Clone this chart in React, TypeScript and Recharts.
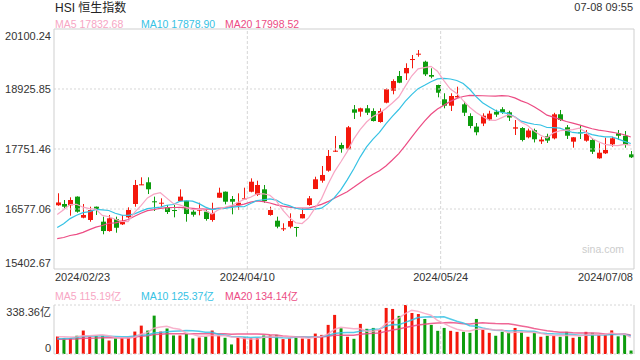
import React from "react";
import { ComposedChart, Bar, Line, XAxis, YAxis, ReferenceLine, Cell } from "recharts";

const dates = [
  "02/23","02/26","02/27","02/28","02/29",
  "03/01","03/04","03/05","03/06","03/07","03/08","03/11","03/12","03/13","03/14","03/15","03/18","03/19","03/20","03/21","03/22","03/25","03/26","03/27","03/28",
  "04/02","04/03","04/05","04/08","04/09","04/10","04/11","04/12","04/15","04/16","04/17","04/18","04/19","04/22","04/23","04/24","04/25","04/26","04/29","04/30",
  "05/02","05/03","05/06","05/07","05/08","05/09","05/10","05/13","05/14","05/16","05/17","05/20","05/21","05/22","05/23","05/24","05/27","05/28","05/29","05/30","05/31",
  "06/03","06/04","06/05","06/06","06/07","06/11","06/12","06/13","06/14","06/17","06/18","06/19","06/20","06/21","06/24","06/25","06/26","06/27","06/28",
  "07/02","07/03","07/04","07/05","07/08",
];

const opens = [
  16650,16675,16649,16819,16407,16362,16622,16329,16146,16381,
  16277,16414,16675,17047,17100,16728,16688,16610,16557,16733,
  16739,16524,16544,16524,16362,16798,16916,16773,16655,16773,
  16915,16851,16962,16460,16348,16180,16231,16225,16394,16655,
  16968,17131,17327,17699,17830,17746,18528,18482,18548,18495,
  18280,18658,18893,19180,19233,19493,19605,19460,19200,19004,
  18724,18599,18763,18626,18397,18190,18250,18330,18480,18530,
  18470,18150,18162,17980,18120,17900,18000,17960,18431,18176,
  17895,18078,17914,17928,17569,17667,17843,18059,18011,17647,
];
const highs = [
  16885,16753,16806,16825,16675,16622,16625,16427,16460,16427,
  16460,16610,17145,17197,17197,16819,16786,16655,16655,16962,
  16740,16571,16700,16557,16700,16994,16920,16831,16884,16994,
  17177,17131,17047,16622,16427,16297,16492,16228,16590,16831,
  17209,17419,17732,18006,17875,18202,18612,18560,18612,18548,
  18548,18940,19115,19278,19429,19591,19689,19480,19331,19010,
  18842,18842,18971,18677,18450,18260,18450,18500,18520,18570,
  18500,18319,18180,18150,18150,17990,18050,18460,18515,18221,
  17985,18221,18123,17961,17863,17973,17993,18123,18104,17712,
];
const lows = [
  16640,16590,16446,16505,16395,16329,16460,16082,16133,16113,
  16264,16394,16622,17045,16870,16538,16610,16479,16414,16728,
  16329,16427,16453,16348,16329,16796,16668,16473,16557,16772,
  16904,16831,16700,16446,16199,16146,16199,16035,16394,16642,
  16968,17092,17307,17693,17679,17732,18339,18384,18417,18290,
  18266,18646,18822,19040,19102,19331,19558,19180,19135,18763,
  18548,18495,18755,18397,18156,18020,18200,18300,18380,18440,
  18300,18025,17900,17960,17880,17850,17870,17940,18299,17947,
  17777,17947,17894,17654,17560,17654,17797,17928,17777,17576,
];
const closes = [
  16705,16622,16753,16524,16460,16557,16571,16146,16395,16210,
  16348,16557,17047,17060,16963,16708,16700,16518,16538,16819,
  16479,16465,16571,16381,16492,16896,16720,16720,16700,16786,
  17111,17047,16733,16557,16231,16199,16342,16212,16479,16786,
  17158,17243,17615,17718,17751,18176,18462,18548,18462,18299,
  18495,18920,19082,19049,19337,19513,19617,19213,19167,18853,
  18599,18789,18789,18462,18202,18079,18403,18444,18425,18476,
  18367,18176,17928,18113,17942,17936,17916,18430,18319,18011,
  17981,18059,18045,17698,17679,17732,17961,18011,17830,17589,
];
// turnover, 亿
const volumes = [
  121,110,110,126,162,121,126,126,93,107,
  110,114,155,196,162,265,155,176,128,128,
  139,107,114,121,162,128,112,66,114,114,
  110,110,128,128,132,103,107,121,107,103,
  141,132,201,270,178,119,105,208,174,180,
  167,318,311,263,338.36,283,276,242,201,160,
  180,160,153,153,146,242,167,146,126,153,
  146,180,153,119,146,119,126,126,119,153,
  112,119,153,146,132,130,163,122,137,24,
];
// sessions before the visible window (for the moving averages)
const priorCloses = [16212,15952,16078,15703,15485,15566,15533,15510,16081,15708,15878,15746,15879,15944,16340,16156,16248,16503,16743];
const priorVolumes = [92,98,105,88,95,110,90,85,120,100,95,80,85,92,105,110,118,120,125];

const priceTicks = [15402.67, 16577.06, 17751.46, 18925.85, 20100.24];
const volTicks = [0, 338.36];
const dateTickPos = [0, 30, 60, 90];
const dateTickLabels = ["2024/02/23", "2024/04/10", "2024/05/24", "2024/07/08"];
const priceLegend = ["MA5 17832.68", "MA10 17878.90", "MA20 17998.52"];
const volLegend = ["MA5 115.19亿", "MA10 125.37亿", "MA20 134.14亿"];

const UP = "#f4180c";
const DOWN = "#0d9c0d";
const C_MA5 = "#f7a6c4";
const C_MA10 = "#36c2e4";
const C_MA20 = "#ec4c84";
const GRID = "#d6d6d6";
const BORDER = "#cfcfcf";
const FONT = '"Liberation Sans", Arial, "Noto Sans CJK SC", sans-serif';

function movingAverage(values: number[], prior: number[], n: number) {
  const all = [...prior, ...values];
  return values.map((_, i) => {
    const end = prior.length + i;
    let s = 0;
    for (let k = end - n + 1; k <= end; k++) s += all[k];
    return s / n;
  });
}

const ma5 = movingAverage(closes, priorCloses, 5);
const ma10 = movingAverage(closes, priorCloses, 10);
const ma20 = movingAverage(closes, priorCloses, 20);
const vma5 = movingAverage(volumes, priorVolumes, 5);
const vma10 = movingAverage(volumes, priorVolumes, 10);
const vma20 = movingAverage(volumes, priorVolumes, 20);

const rows = dates.map((d, i) => ({
  date: d,
  pos: i + 0.5,
  open: opens[i],
  high: highs[i],
  low: lows[i],
  close: closes[i],
  range: [lows[i], highs[i]],
  vol: volumes[i],
  ma5: ma5[i],
  ma10: ma10[i],
  ma20: ma20[i],
  vma5: vma5[i],
  vma10: vma10[i],
  vma20: vma20[i],
}));

const Candle = (props: any) => {
  const { x, y, width, height } = props;
  const p = props.payload || props;
  if (p == null || x == null) return null;
  const top = Math.min(y, y + height);
  const h = Math.abs(height);
  const span = p.high - p.low;
  const k = span > 0 ? h / span : 0;
  const yOf = (v: number) => top + (p.high - v) * k;
  const up = p.close >= p.open;
  const color = up ? UP : DOWN;
  const cx = Math.round(x + width / 2) + 0.5;
  const bTop = yOf(Math.max(p.open, p.close));
  const bBot = yOf(Math.min(p.open, p.close));
  return (
    <g>
      <line x1={cx} x2={cx} y1={top} y2={top + h} stroke={color} strokeWidth={1} />
      <rect x={cx - width / 2} y={bTop} width={width} height={Math.max(1, bBot - bTop)} fill={color} />
    </g>
  );
};

const PriceTick = (props: any) => {
  const { x, y, payload, index } = props;
  const n = priceTicks.length;
  const shift = index === n - 1 ? 7 : index === 0 ? -6 : 0;
  return (
    <text x={x} y={y + shift} dy="0.35em" textAnchor="end" fontSize={11} fill="#333" fontFamily={FONT}>
      {Number(payload.value).toFixed(2)}
    </text>
  );
};

const VolTick = (props: any) => {
  const { x, y, payload, index } = props;
  const shift = index === 1 ? 7 : -6;
  const label = index === 1 ? `${Number(payload.value).toFixed(2)}亿` : "0";
  return (
    <text x={x} y={y + shift} dy="0.35em" textAnchor="end" fontSize={11} fill="#333" fontFamily={FONT}>
      {label}
    </text>
  );
};

const DateTick = (props: any) => {
  const { x, y, index } = props;
  const anchor = index === 0 ? "start" : index === dateTickPos.length - 1 ? "end" : "middle";
  const dx = index === 0 ? 1 : index === dateTickPos.length - 1 ? -1 : 0;
  return (
    <text x={x + dx} y={y} dy="0.71em" textAnchor={anchor} fontSize={11} fill="#333" fontFamily={FONT}>
      {dateTickLabels[index]}
    </text>
  );
};

const txt = (extra: React.CSSProperties): React.CSSProperties => ({
  position: "absolute",
  fontFamily: FONT,
  whiteSpace: "nowrap",
  lineHeight: "14px",
  zIndex: 2,
  ...extra,
});

export default function App() {
  return (
    <div style={{ position: "absolute", left: 0, top: 0, width: 640, height: 360, background: "#fff", overflow: "hidden" }}>
      <div style={{ position: "absolute", left: 0, top: 0 }}>
        <ComposedChart width={640} height={290} data={rows} margin={{ top: 29, right: 6, bottom: 1, left: 0 }}>
          <XAxis
            xAxisId="num"
            dataKey="pos"
            type="number"
            domain={[0, 90]}
            allowDataOverflow
            ticks={dateTickPos}
            interval={0}
            tick={<DateTick />}
            tickLine={false}
            axisLine={false}
            tickSize={0}
            tickMargin={4}
            height={20}
          />
          <XAxis xAxisId="cat" dataKey="date" hide height={0} />
          <YAxis
            yAxisId="p"
            domain={[priceTicks[0], priceTicks[priceTicks.length - 1]]}
            allowDataOverflow
            ticks={priceTicks}
            interval={0}
            width={54}
            tick={<PriceTick />}
            tickLine={false}
            axisLine={false}
            tickSize={0}
            tickMargin={3}
          />
          {priceTicks.slice(1, -1).map((v) => (
            <ReferenceLine key={v} xAxisId="num" yAxisId="p" y={v} stroke={GRID} strokeDasharray="2 2" />
          ))}
          {[30, 60].map((v) => (
            <ReferenceLine key={v} xAxisId="num" yAxisId="p" x={v} stroke={GRID} strokeDasharray="3 2" />
          ))}
          <ReferenceLine xAxisId="num" yAxisId="p" y={priceTicks[0]} stroke={BORDER} />
          <ReferenceLine xAxisId="num" yAxisId="p" y={priceTicks[priceTicks.length - 1]} stroke={BORDER} />
          <ReferenceLine xAxisId="num" yAxisId="p" x={0} stroke={BORDER} />
          <ReferenceLine xAxisId="num" yAxisId="p" x={90} stroke={BORDER} />
          <Bar xAxisId="cat" yAxisId="p" dataKey="range" barSize={5} shape={<Candle />} isAnimationActive={false} />
          <Line xAxisId="cat" yAxisId="p" dataKey="ma20" stroke={C_MA20} strokeWidth={1.2} dot={false} isAnimationActive={false} />
          <Line xAxisId="cat" yAxisId="p" dataKey="ma10" stroke={C_MA10} strokeWidth={1.2} dot={false} isAnimationActive={false} />
          <Line xAxisId="cat" yAxisId="p" dataKey="ma5" stroke={C_MA5} strokeWidth={1.2} dot={false} isAnimationActive={false} />
        </ComposedChart>
      </div>

      <div style={{ position: "absolute", left: 0, top: 290 }}>
        <ComposedChart width={640} height={70} data={rows} margin={{ top: 15, right: 6, bottom: 6, left: 0 }}>
          <XAxis xAxisId="num" dataKey="pos" type="number" domain={[0, 90]} allowDataOverflow hide height={0} />
          <XAxis xAxisId="cat" dataKey="date" hide height={0} />
          <YAxis
            yAxisId="v"
            domain={[0, volTicks[1]]}
            allowDataOverflow
            ticks={volTicks}
            interval={0}
            width={54}
            tick={<VolTick />}
            tickLine={false}
            axisLine={false}
            tickSize={0}
            tickMargin={3}
          />
          <ReferenceLine xAxisId="num" yAxisId="v" y={0} stroke={GRID} strokeDasharray="2 2" />
          <ReferenceLine xAxisId="num" yAxisId="v" y={volTicks[1]} stroke={GRID} strokeDasharray="2 2" />
          {[30, 60].map((v) => (
            <ReferenceLine key={v} xAxisId="num" yAxisId="v" x={v} stroke={GRID} strokeDasharray="3 2" />
          ))}
          <ReferenceLine xAxisId="num" yAxisId="v" x={0} stroke={BORDER} />
          <ReferenceLine xAxisId="num" yAxisId="v" x={90} stroke={BORDER} />
          <Bar xAxisId="cat" yAxisId="v" dataKey="vol" barSize={3} isAnimationActive={false}>
            {rows.map((r, i) => (
              <Cell key={i} fill={r.close >= r.open ? UP : DOWN} />
            ))}
          </Bar>
          <Line xAxisId="cat" yAxisId="v" dataKey="vma20" stroke={C_MA20} strokeOpacity={0.85} strokeWidth={1.5} dot={false} isAnimationActive={false} />
          <Line xAxisId="cat" yAxisId="v" dataKey="vma10" stroke={C_MA10} strokeOpacity={0.85} strokeWidth={1.5} dot={false} isAnimationActive={false} />
          <Line xAxisId="cat" yAxisId="v" dataKey="vma5" stroke={C_MA5} strokeOpacity={0.85} strokeWidth={1.5} dot={false} isAnimationActive={false} />
        </ComposedChart>
      </div>

      <div style={txt({ left: 55, top: 1, fontSize: 12, color: "#222" })}>HSI 恒生指数</div>
      <div style={txt({ right: 7, top: 0, fontSize: 11, color: "#333" })}>07-08 09:55</div>
      <div style={txt({ left: 55, top: 17, fontSize: 10.5, color: C_MA5 })}>{priceLegend[0]}</div>
      <div style={txt({ left: 141, top: 17, fontSize: 10.5, color: C_MA10 })}>{priceLegend[1]}</div>
      <div style={txt({ left: 225, top: 17, fontSize: 10.5, color: C_MA20 })}>{priceLegend[2]}</div>
      <div style={txt({ left: 582, top: 242, fontSize: 10.5, color: "#cccccc" })}>sina.com</div>
      <div style={txt({ left: 55, top: 289, fontSize: 10.5, color: C_MA5 })}>{volLegend[0]}</div>
      <div style={txt({ left: 141, top: 289, fontSize: 10.5, color: C_MA10 })}>{volLegend[1]}</div>
      <div style={txt({ left: 225, top: 289, fontSize: 10.5, color: C_MA20 })}>{volLegend[2]}</div>
    </div>
  );
}
